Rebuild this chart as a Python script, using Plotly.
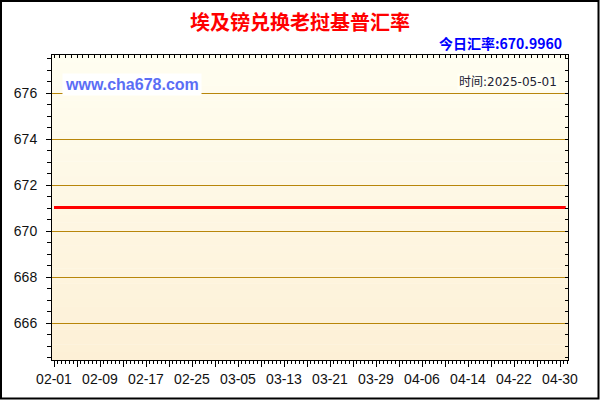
import plotly.graph_objects as go

# ---- data ----
dates = ["2025-02-01", "2025-02-09", "2025-02-17", "2025-02-25", "2025-03-05",
         "2025-03-13", "2025-03-21", "2025-03-29", "2025-04-06", "2025-04-14",
         "2025-04-22", "2025-04-30", "2025-05-01"]
rates = [671.04, 671.04, 671.04, 671.04, 671.04, 671.04, 671.04,
         671.04, 671.04, 671.04, 671.04, 671.04, 671.04]
major_tick_dates = ["2025-02-01", "2025-02-05", "2025-02-09", "2025-02-13", "2025-02-17",
                    "2025-02-21", "2025-02-25", "2025-03-01", "2025-03-05", "2025-03-09",
                    "2025-03-13", "2025-03-17", "2025-03-21", "2025-03-25", "2025-03-29",
                    "2025-04-02", "2025-04-06", "2025-04-10", "2025-04-14", "2025-04-18",
                    "2025-04-22", "2025-04-26", "2025-04-30"]
major_tick_text = ["02-01", "", "02-09", "", "02-17", "", "02-25", "", "03-05", "",
                   "03-13", "", "03-21", "", "03-29", "", "04-06", "", "04-14", "",
                   "04-22", "", "04-30"]
title_text = "埃及镑兑换老挝基普汇率"
today_text = "今日汇率:670.9960"
site_text = "www.cha678.com"
time_text = "时间:2025-05-01"

# ---- layout geometry (pixels) ----
W, H = 600, 400
ML, MR, MT, MB = 52, 32, 55, 40
PW, PH = W - ML - MR, H - MT - MB
x_range = ["2025-01-31 15:40", "2025-05-01 09:20"]
y_range = [664.4, 677.67]

def px_x(p):
    return (p - ML) / PW

def px_y(p):
    return (H - MB - p) / PH

fig = go.Figure()
fig.add_trace(go.Scatter(x=dates, y=rates, mode="lines",
                         line=dict(color="#FF0000", width=3),
                         showlegend=False, hoverinfo="skip"))
# helper trace for the mirrored top/right axes
fig.add_trace(go.Scatter(x=dates[:1], y=rates[:1], mode="none", xaxis="x2", yaxis="y2",
                         showlegend=False, hoverinfo="skip"))

# gradient background of plot area
shapes = []
N = 40
top_c = (255, 254, 241)
bot_c = (253, 240, 214)
for i in range(N):
    t = (i + 0.5) / N
    c = tuple(round(top_c[k] + (bot_c[k] - top_c[k]) * t) for k in range(3))
    shapes.append(dict(type="rect", xref="paper", yref="paper", x0=0, x1=1,
                       y0=1 - (i + 1) / N, y1=1 - i / N + 0.001,
                       fillcolor="rgb(%d,%d,%d)" % c, line=dict(width=0), layer="below"))
# outer frame
shapes.append(dict(type="rect", xref="paper", yref="paper",
                   x0=px_x(1), x1=px_x(598.5), y0=px_y(398.5), y1=px_y(1),
                   line=dict(color="black", width=2), fillcolor="rgba(0,0,0,0)", layer="above"))

tickfont = dict(family="Liberation Sans, Arial, sans-serif", size=14, color="#111111")

fig.update_layout(
    width=W, height=H,
    margin=dict(l=ML, r=MR, t=MT, b=MB),
    paper_bgcolor="white",
    plot_bgcolor="rgba(0,0,0,0)",
    shapes=shapes,
    title=dict(text="<b>%s</b>" % title_text, xref="container", yref="container",
               x=0.5, xanchor="center", y=1 - 23 / H, yanchor="middle",
               font=dict(family="Noto Sans CJK SC", size=20, color="#FF0000")),
    xaxis=dict(type="date", range=x_range, showgrid=False, zeroline=False,
               showline=True, linecolor="black", linewidth=1,
               tickmode="array", tickvals=major_tick_dates, ticktext=major_tick_text,
               ticks="outside", ticklen=6, tickcolor="black", tickwidth=1,
               tickfont=tickfont,
               minor=dict(tickmode="linear", tick0="2025-02-01", dtick=57600000,
                          ticks="outside", ticklen=3, tickcolor="black", showgrid=False)),
    yaxis=dict(range=y_range, tickmode="linear", tick0=0, dtick=2,
               showgrid=True, gridcolor="#B8860B", gridwidth=1, zeroline=False,
               showline=True, linecolor="black", linewidth=1,
               ticks="outside", ticklen=5, tickcolor="black", tickfont=tickfont,
               ticklabelstandoff=6,
               minor=dict(tickmode="linear", tick0=0, dtick=0.5, ticks="outside",
                          ticklen=4, tickcolor="black", showgrid=False)),
    xaxis2=dict(type="date", range=x_range, overlaying="x", side="top", anchor="y2",
                showgrid=False, zeroline=False, showline=True, linecolor="black",
                tickmode="linear", tick0="2025-02-01", dtick=86400000,
                ticks="inside", ticklen=3, tickcolor="black", showticklabels=False),
    yaxis2=dict(range=y_range, overlaying="y", side="right", anchor="x2",
                showgrid=False, zeroline=False, showline=True, linecolor="black",
                tickmode="linear", tick0=0, dtick=0.5,
                ticks="inside", ticklen=3, tickcolor="black", showticklabels=False),
    annotations=[
        dict(text="<b>%s</b>" % today_text, xref="paper", yref="paper",
             x=px_x(564), y=px_y(43), xanchor="right", yanchor="middle", showarrow=False,
             font=dict(family="Noto Sans CJK SC", size=14, color="#0000FF")),
        dict(text="<b>%s</b>" % site_text, xref="paper", yref="paper",
             x=px_x(62), y=px_y(84), xanchor="left", yanchor="middle", showarrow=False,
             bgcolor="white", borderpad=2,
             font=dict(family="Liberation Sans, Arial, sans-serif", size=16, color="#5B6EF5")),
        dict(text=time_text, xref="paper", yref="paper",
             x=px_x(559), y=px_y(82), xanchor="right", yanchor="middle", showarrow=False,
             bgcolor="#FFFFF4", borderpad=1,
             font=dict(family="DejaVu Sans, Noto Sans CJK SC", size=12, color="#222233")),
    ],
)

fig.write_html("out.html", config={"displayModeBar": False},
               post_script="document.body.style.margin='0';document.body.style.overflow='hidden';")
